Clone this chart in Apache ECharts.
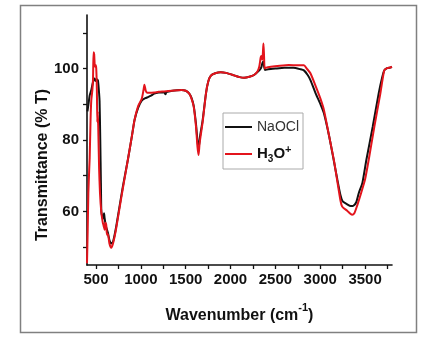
<!DOCTYPE html>
<html>
<head>
<meta charset="utf-8">
<script src="https://cdn.jsdelivr.net/npm/echarts@6/dist/echarts.min.js"></script>
<style>
  html, body { margin: 0; padding: 0; background: #fff; }
  #chart { width: 425px; height: 338px; }
</style>
</head>
<body>
<div id="chart"></div>
<script>
// FTIR spectra: wavenumber (cm-1) and transmittance (% T) for each treatment
const naoclWavenumber = [405, 418, 430, 448, 465, 485, 500, 510, 522, 532, 540, 548, 555, 560, 570, 580, 590, 596, 610, 633, 650, 670, 690, 720, 760, 800, 855, 900, 930, 970, 1010, 1050, 1080, 1114, 1150, 1200, 1260, 1275, 1285, 1350, 1450, 1500, 1540, 1565, 1590, 1614, 1635, 1646, 1660, 1689, 1726, 1751, 1781, 1830, 1890, 1950, 2040, 2100, 2151, 2210, 2262, 2300, 2330, 2345, 2355, 2367, 2375, 2385, 2420, 2500, 2600, 2700, 2780, 2818, 2860, 2892, 2950, 3003, 3041, 3100, 3150, 3190, 3226, 3250, 3300, 3340, 3370, 3400, 3429, 3470, 3514, 3585, 3651, 3690, 3714, 3745, 3781, 3800];
const naoclTransmittance = [88, 90.3, 92.5, 94, 96, 97.2, 96.5, 97, 96.7, 94, 91, 80, 68, 60, 58.5, 58, 59.5, 58.2, 56, 54, 52, 51, 51.5, 55, 61, 67, 74.4, 81, 85.6, 89, 91, 91.7, 92, 92.4, 93, 93.3, 93.4, 92.8, 93.4, 93.8, 94, 93.8, 93, 91.8, 89.5, 84.7, 79, 78, 81, 85.5, 93, 96.3, 98, 98.7, 99, 98.8, 98.1, 97.6, 97.4, 97.7, 98.2, 99, 99.8, 100.5, 101.5, 102, 100.5, 99.6, 99.8, 100, 100.2, 100.2, 99.8, 99.5, 98.2, 96.7, 93, 90, 87.5, 81, 74.4, 69, 64.5, 62.8, 62, 61.5, 61.6, 62.5, 65.1, 68, 74.4, 83.7, 93, 97.5, 99.5, 100.1, 100.3, 100.4];

const h3oWavenumber = [400, 408, 415, 425, 430, 440, 448, 460, 467, 473, 480, 488, 496, 503, 510, 515, 520, 525, 535, 545, 559, 575, 585, 596, 605, 614, 622, 633, 650, 670, 690, 720, 760, 800, 855, 900, 930, 970, 1010, 1030, 1040, 1055, 1070, 1100, 1150, 1200, 1260, 1350, 1450, 1500, 1540, 1565, 1590, 1614, 1632, 1644, 1655, 1689, 1726, 1751, 1781, 1830, 1890, 1950, 2040, 2100, 2151, 2210, 2262, 2300, 2320, 2337, 2345, 2355, 2362, 2367, 2373, 2380, 2390, 2450, 2550, 2650, 2750, 2818, 2850, 2892, 2950, 3003, 3041, 3100, 3152, 3190, 3226, 3244, 3300, 3355, 3380, 3410, 3455, 3500, 3540, 3603, 3670, 3714, 3745, 3781, 3800];
const h3oTransmittance = [45.5, 55, 65, 72, 75, 86, 91.2, 94, 97, 104.6, 104, 100.5, 101, 100, 94, 85, 88, 84, 72, 65, 60, 57, 56, 54.9, 56.8, 56.3, 53.5, 53.7, 51, 49.8, 51, 54.5, 60.5, 66.5, 74.4, 81, 85.6, 89.5, 91.5, 94, 95.5, 93.8, 93.2, 93.2, 93.3, 93.5, 93.6, 93.8, 94, 93.8, 93, 91.6, 89.3, 84, 78, 75.8, 79, 85, 93, 96.3, 98, 98.7, 99, 98.8, 98.1, 97.6, 97.4, 97.7, 98.2, 99.2, 100.5, 103.2, 103.5, 102.5, 105, 107, 104, 100, 100.2, 100.5, 100.8, 101, 100.9, 100.9, 100, 98.6, 95, 91.5, 88.4, 81, 74.4, 68.5, 63, 61.4, 60.2, 59.1, 59.5, 61.5, 65.1, 69, 74.4, 83.7, 93, 99.5, 100.1, 100.3, 100.5];

const xTickValues = [500, 750, 1000, 1250, 1500, 1750, 2000, 2250, 2500, 2750, 3000, 3250, 3500, 3750];
const xLabelValues = [500, 1000, 1500, 2000, 2500, 3000, 3500];
const yTickValues = [50, 60, 70, 80, 90, 100, 110];
const yLabelValues = [60, 80, 100];

const seriesNames = ['NaOCl', 'H3O+'];

function pairs(xs, ys) {
  return xs.map((x, i) => [x, ys[i]]);
}

const chart = echarts.init(document.getElementById('chart'), null, { renderer: 'canvas' });

const axisFont = 'Liberation Sans, Arial, sans-serif';

chart.setOption({
  animation: false,
  backgroundColor: '#fff',
  grid: { left: 87, right: 33, top: 15, bottom: 73, containLabel: false },
  xAxis: {
    type: 'value',
    min: 400,
    max: 3800,
    axisLine: { show: true, onZero: false, lineStyle: { color: '#111', width: 1.6 } },
    axisTick: { show: true, length: 4, customValues: xTickValues, lineStyle: { color: '#111', width: 1.3 } },
    axisLabel: {
      customValues: xLabelValues,
      formatter: function (v) { return String(v); },
      margin: 7,
      color: '#111',
      fontFamily: axisFont,
      fontWeight: 'bold',
      fontSize: 15
    },
    splitLine: { show: false },
    name: '{t|Wavenumber (cm}{s|-1}{t|)}',
    nameLocation: 'middle',
    nameGap: 37,
    nameTextStyle: {
      rich: {
        t: { fontFamily: axisFont, fontWeight: 'bold', fontSize: 16, color: '#111', lineHeight: 22, verticalAlign: 'bottom' },
        s: { fontFamily: axisFont, fontWeight: 'bold', fontSize: 11, color: '#111', lineHeight: 22, verticalAlign: 'top' }
      }
    }
  },
  yAxis: {
    type: 'value',
    min: 45,
    max: 115,
    axisLine: { show: true, onZero: false, lineStyle: { color: '#111', width: 1.6 } },
    axisTick: { show: true, length: 4, customValues: yTickValues, lineStyle: { color: '#111', width: 1.3 } },
    axisLabel: {
      customValues: yLabelValues,
      formatter: function (v) { return String(v); },
      margin: 8,
      color: '#111',
      fontFamily: axisFont,
      fontWeight: 'bold',
      fontSize: 15
    },
    splitLine: { show: false }
  },
  legend: {
    orient: 'vertical',
    left: 223,
    top: 113,
    padding: [7, 4, 5, 2],
    itemGap: 10,
    itemWidth: 27,
    itemHeight: 2,
    icon: 'rect',
    borderColor: '#aaa',
    borderWidth: 1,
    backgroundColor: '#fff',
    data: seriesNames,
    formatter: function (name) {
      return name === 'NaOCl' ? '{n|NaOCl}' : '{b|H}{sub|3}{b|O}{sup|+}';
    },
    textStyle: {
      rich: {
        n: { fontFamily: axisFont, fontSize: 14, color: '#333', lineHeight: 18 },
        b: { fontFamily: axisFont, fontSize: 15, fontWeight: 'bold', color: '#111', lineHeight: 20 },
        sub: { fontFamily: axisFont, fontSize: 10, fontWeight: 'bold', color: '#111', lineHeight: 20, verticalAlign: 'bottom' },
        sup: { fontFamily: axisFont, fontSize: 11, fontWeight: 'bold', color: '#111', lineHeight: 20, verticalAlign: 'top' }
      }
    }
  },
  graphic: [
    {
      type: 'rect',
      shape: { x: 20.5, y: 5.5, width: 396, height: 327 },
      style: { fill: null, stroke: '#808080', lineWidth: 1.5 },
      silent: true,
      z: 100
    },
    {
      type: 'text',
      x: 43,
      y: 165,
      rotation: Math.PI / 2,
      style: {
        text: 'Transmittance (% T)',
        font: 'bold 16px ' + axisFont,
        fill: '#111',
        align: 'center',
        verticalAlign: 'middle'
      }
    }
  ],
  series: [
    {
      name: 'NaOCl',
      type: 'line',
      data: pairs(naoclWavenumber, naoclTransmittance),
      showSymbol: false,
      symbol: 'none',
      smooth: 0.2,
      lineStyle: { color: '#111', width: 2 },
      itemStyle: { color: '#111' },
      z: 2
    },
    {
      name: 'H3O+',
      type: 'line',
      data: pairs(h3oWavenumber, h3oTransmittance),
      showSymbol: false,
      symbol: 'none',
      smooth: 0.2,
      lineStyle: { color: '#e3141c', width: 2 },
      itemStyle: { color: '#e3141c' },
      z: 3
    }
  ]
});
</script>
</body>
</html>
